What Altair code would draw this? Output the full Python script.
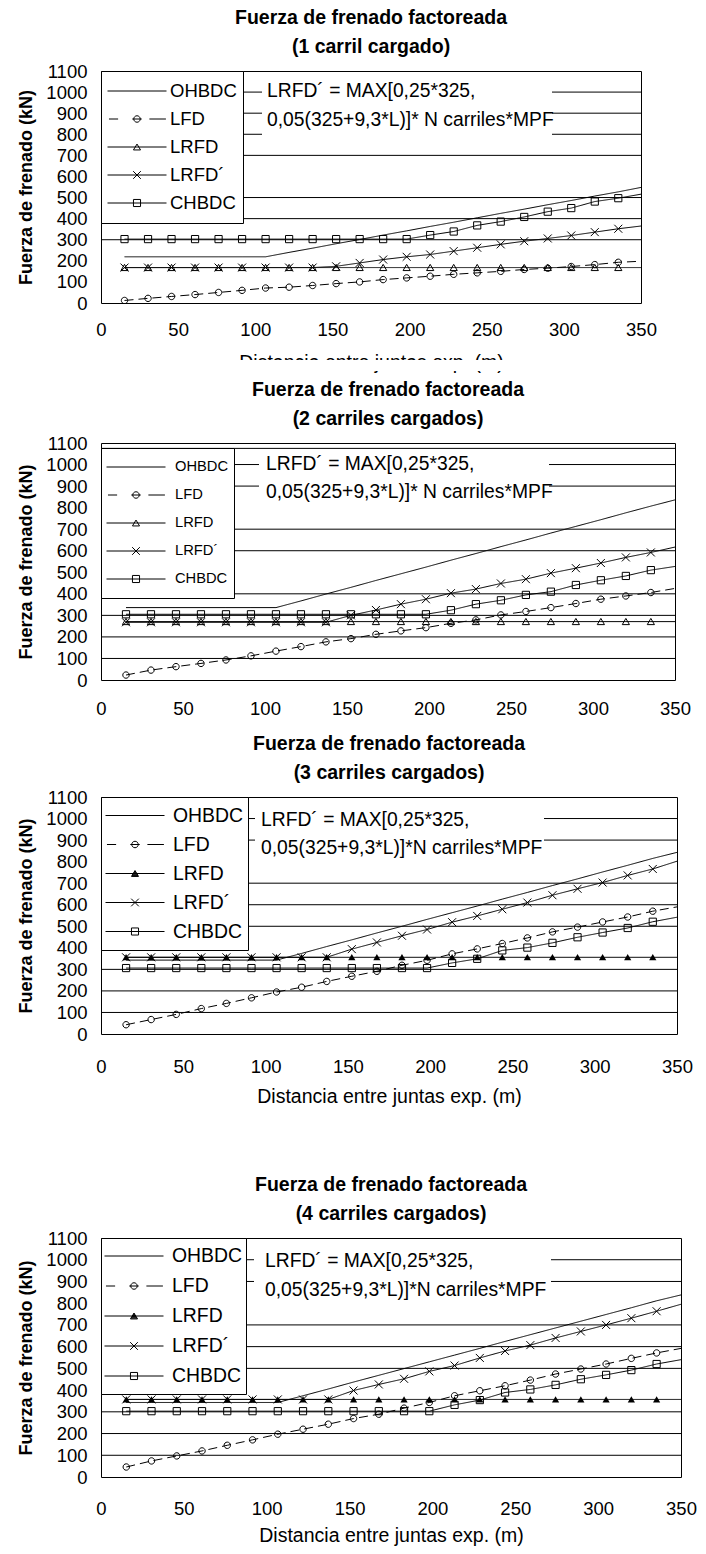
import altair as alt
import pandas as pd

FONT = "Liberation Sans, Arial, Helvetica, sans-serif"

series = ["OHBDC", "LFD", "LRFD", "LRFD´", "CHBDC"]
# distances (m): 22 computed points every 15.24 m, plus the line end at 350 m
x_m = [15.24, 30.48, 45.72, 60.96, 76.2, 91.44, 106.68, 121.92, 137.16, 152.4, 167.64,
       182.88, 198.12, 213.36, 228.6, 243.84, 259.08, 274.32, 289.56, 304.8, 320.04, 335.28, 350]
x_ticks = [0, 50, 100, 150, 200, 250, 300, 350]
y_ticks = [0, 100, 200, 300, 400, 500, 600, 700, 800, 900, 1000, 1100]

# ---- panel 1 : 1 carril cargado
p1_ohbdc = [219, 219, 219, 219, 219, 219, 219, 240, 260, 281, 301, 322, 342, 363, 383, 404, 425, 445, 466, 486, 507, 527, 548]
p1_lfd = [12, 22, 31, 40, 50, 60, 71, 75, 83, 92, 100, 111, 119, 127, 136, 143, 150, 159, 165, 173, 182, 193, 198]
p1_lrfd = [168, 168, 168, 168, 168, 168, 168, 168, 168, 168, 168, 168, 168, 168, 168, 168, 168, 168, 168, 168, 168, 168, 168]
p1_lrfdp = [168, 168, 168, 168, 168, 168, 168, 168, 168, 174, 190, 206, 219, 230, 246, 262, 278, 293, 306, 320, 336, 352, 365]
p1_chbdc = [303, 303, 303, 303, 303, 303, 303, 303, 303, 303, 303, 303, 303, 322, 339, 368, 386, 408, 433, 450, 481, 497, 516]
p1_grid = [300, 400, 500, 700, 800, 900, 1000]

# ---- panel 2 : 2 carriles cargados
p2_ohbdc = [336, 336, 336, 336, 336, 336, 336, 367, 399, 430, 462, 493, 524, 556, 587, 619, 650, 682, 713, 744, 776, 807, 836]
p2_lfd = [23, 46, 62, 77, 93, 112, 134, 155, 177, 192, 212, 228, 243, 263, 279, 302, 318, 336, 355, 375, 390, 406, 425]
p2_lrfd = [271, 271, 271, 271, 271, 271, 271, 271, 271, 271, 271, 271, 271, 271, 271, 271, 271, 271, 271, 271, 271, 271, 271]
p2_lrfdp = [268, 268, 268, 268, 268, 268, 268, 268, 268, 300, 325, 352, 375, 403, 422, 448, 468, 496, 519, 543, 569, 592, 617]
p2_chbdc = [305, 305, 305, 305, 305, 305, 305, 305, 305, 305, 305, 305, 305, 324, 352, 370, 395, 410, 441, 463, 483, 510, 527]
p2_grid = [100, 200, 300, 400, 600, 700, 900, 1000, 1075]

# ---- panel 3 : 3 carriles cargados
p3_ohbdc = [343, 343, 343, 343, 343, 343, 343, 374, 406, 437, 469, 500, 532, 563, 594, 626, 657, 689, 720, 752, 783, 815, 843]
p3_lfd = [43, 67, 91, 118, 142, 168, 195, 217, 244, 268, 291, 319, 342, 372, 395, 420, 446, 474, 496, 520, 543, 570, 590]
p3_lrfd = [356, 356, 356, 356, 356, 356, 356, 356, 356, 356, 356, 356, 356, 356, 356, 356, 356, 356, 356, 356, 356, 356, 356]
p3_lrfdp = [356, 356, 356, 356, 356, 356, 356, 356, 356, 394, 425, 456, 485, 519, 548, 579, 610, 644, 674, 703, 736, 766, 802]
p3_chbdc = [306, 306, 306, 306, 306, 306, 306, 306, 306, 306, 306, 306, 306, 330, 349, 388, 401, 423, 449, 471, 492, 521, 542]
p3_grid = [100, 200, 300, 500, 600, 700, 900, 1000]

# ---- panel 4 : 4 carriles cargados
p4_ohbdc = [343, 343, 343, 343, 343, 343, 343, 374, 405, 437, 468, 499, 530, 561, 592, 624, 655, 686, 717, 748, 779, 811, 838]
p4_lfd = [46, 74, 97, 120, 146, 171, 197, 220, 243, 269, 289, 317, 343, 374, 397, 420, 446, 474, 497, 520, 546, 571, 592]
p4_lrfd = [357, 357, 357, 357, 357, 357, 357, 357, 357, 357, 357, 357, 357, 357, 357, 357, 357, 357, 357, 357, 357, 357, 357]
p4_lrfdp = [357, 357, 357, 357, 357, 357, 357, 357, 357, 398, 426, 452, 486, 513, 548, 580, 607, 640, 670, 700, 731, 763, 795]
p4_chbdc = [303, 303, 303, 303, 303, 303, 303, 303, 303, 303, 303, 303, 303, 332, 354, 389, 403, 424, 450, 470, 492, 520, 540]
p4_grid = [100, 200, 300, 500, 600, 700, 900, 1000]

title_main = "Fuerza de frenado factoreada"
subtitles = ["(1 carril cargado)", "(2 carriles cargados)", "(3 carriles cargados)", "(4 carriles cargados)"]
note_a = ["LRFD´ = MAX[0,25*325,", "0,05(325+9,3*L)]* N carriles*MPF"]
note_b = ["LRFD´ = MAX[0,25*325,", "0,05(325+9,3*L)]*N carriles*MPF"]
x_title = "Distancia entre juntas exp. (m)"
y_title = "Fuerza de frenado (kN)"

# ---- marker / legend symbol paths (style)
CIRC = "M0.8,0A0.8,0.8 0 1,1 -0.8,0A0.8,0.8 0 1,1 0.8,0Z"
TRI = "M0,-0.8L0.9,0.75L-0.9,0.75Z"
XSH = "M-1,-1L1,1M-1,1L1,-1"
SQ = "M-0.9,-0.9H0.9V0.9H-0.9Z"
marker_paths = [CIRC, CIRC, TRI, XSH, SQ]


def circ(r, cx=0.0):
    return "M%g,0A%g,%g 0 1,1 %g,0A%g,%g 0 1,1 %g,0" % (cx + r, r, r, cx - r, r, r, cx + r)


def tri_leg(filled):
    hw, h = 0.12, 0.2
    s = "M0,%gL%g,%gL%g,%gZ" % (-h / 2, hw, h / 2, -hw, h / 2)
    if filled:
        n = 7
        for i in range(1, n):
            yy = -h / 2 + h * i / n
            w = hw * i / n
            s += "M%g,%gH%g" % (-w, yy, w)
    return s


LINE = "M-1,0H1"


def legend_paths(filled):
    return [
        LINE,
        "M-0.95,0H-0.64M-0.16,0H0.16M0.42,0H0.98" + circ(0.11),
        LINE + tri_leg(filled),
        LINE + "M-0.13,-0.13L0.13,0.13M-0.13,0.13L0.13,-0.13",
        LINE + "M-0.12,-0.12H0.12V0.12H-0.12Z",
    ]


panels = [
    dict(vals=[p1_ohbdc, p1_lfd, p1_lrfd, p1_lrfdp, p1_chbdc], grid=p1_grid, sub=subtitles[0],
         w=540, h=232, xtitle=x_title, lp=17, tp=15, filled=False, note=note_a,
         leg=dict(y=0, pad=6, clip=28, fs=18.5, lo=3), rect=(161, 451, 8, 65), tx=166, ty=(20, 49),
         mask=True),
    dict(vals=[p2_ohbdc, p2_lfd, p2_lrfd, p2_lrfdp, p2_chbdc], grid=p2_grid, sub=subtitles[1],
         w=574, h=237, xtitle=None, lp=19, tp=10, filled=False, note=note_a,
         leg=dict(y=5, pad=5, clip=28, fs=14.7, lo=9), rect=(158, 448, 9, 63), tx=165, ty=(21, 49),
         mask=False),
    dict(vals=[p3_ohbdc, p3_lfd, p3_lrfd, p3_lrfdp, p3_chbdc], grid=p3_grid, sub=subtitles[2],
         w=576, h=237, xtitle=x_title, lp=23, tp=12, filled=True, note=note_b,
         leg=dict(y=0, pad=4, clip=29, fs=19.4, lo=8), rect=(154, 443, 8, 62), tx=160, ty=(23, 51),
         mask=False),
    dict(vals=[p4_ohbdc, p4_lfd, p4_lrfd, p4_lrfdp, p4_chbdc], grid=p4_grid, sub=subtitles[3],
         w=580, h=239, xtitle=x_title, lp=22, tp=9, filled=True, note=note_b,
         leg=dict(y=0, pad=3, clip=30, fs=19.4, lo=8), rect=(153, 450, 8, 64), tx=164, ty=(23, 52),
         mask=False),
]


def make_panel(p):
    rows = []
    n = len(x_m)
    for name, vals in zip(series, p["vals"]):
        for i, (xv, yv) in enumerate(zip(x_m, vals)):
            rows.append({"x": xv, "y": yv, "series": name, "marker": i < n - 1})
    df = pd.DataFrame(rows)
    W, H = p["w"], p["h"]

    xax = dict(values=x_ticks, format="d", labelFont=FONT, labelFontSize=18.5, labelColor="black",
               labelPadding=p["lp"], ticks=False, domain=False, grid=False, labelFlush=False,
               labelOverlap=False, titleFont=FONT, titleFontSize=19.5, titleFontWeight="normal",
               titleColor="black", titlePadding=p["tp"])
    xax["title"] = p["xtitle"] if p["xtitle"] is not None else None
    xenc = alt.X("x:Q", scale=alt.Scale(domain=[0, 350], nice=False, zero=False), axis=alt.Axis(**xax))
    yenc = alt.Y("y:Q", scale=alt.Scale(domain=[0, 1100], nice=False, zero=False),
                 axis=alt.Axis(values=y_ticks, format="d", labelFont=FONT, labelFontSize=18.5,
                               labelColor="black", labelPadding=14, ticks=False, domain=False,
                               grid=False, labelFlush=False, labelOverlap=False, title=y_title,
                               titleFont=FONT, titleFontSize=18, titleFontWeight="bold",
                               titleColor="black", titlePadding=10))

    grid = alt.Chart(pd.DataFrame({"y": p["grid"]})).mark_rule(color="black", strokeWidth=1).encode(y=yenc)

    lines = alt.Chart(df).mark_line(color="black", strokeWidth=1, clip=True).encode(
        x=xenc, y=yenc, detail="series:N",
        strokeDash=alt.StrokeDash("series:N", scale=alt.Scale(domain=series,
                                  range=[[1, 0], [9, 5], [1, 0], [1, 0], [1, 0]]), legend=None))

    flt = "datum.marker && datum.series != 'OHBDC'"
    if p["filled"]:
        flt += " && datum.series != 'LRFD'"
    pts = alt.Chart(df).transform_filter(flt).mark_point(
        size=64, opacity=1, strokeWidth=1, color="black", filled=False, clip=True).encode(
        x=xenc, y=yenc,
        shape=alt.Shape("series:N", scale=alt.Scale(domain=series, range=marker_paths), legend=None))

    lg = p["leg"]
    leg = alt.Chart(pd.DataFrame({"series": series})).mark_point(
        opacity=0, size=3481, strokeWidth=1, color="black", filled=False).encode(
        shape=alt.Shape("series:N", scale=alt.Scale(domain=series, range=legend_paths(p["filled"])),
                        legend=alt.Legend(title=None, orient="none", legendX=0, legendY=lg["y"],
                                          padding=lg["pad"], clipHeight=lg["clip"], rowPadding=0,
                                          symbolSize=3481, symbolStrokeWidth=1, symbolStrokeColor="black",
                                          symbolOpacity=1, labelFont=FONT, labelFontSize=lg["fs"],
                                          labelColor="black", labelOffset=lg["lo"], fillColor="white",
                                          strokeColor="black", labelLimit=200)))

    x0, x1, y0, y1 = p["rect"]
    nb = alt.Chart(pd.DataFrame({"a": [0]})).mark_rect(color="white").encode(
        x=alt.value(x0), x2=alt.value(x1), y=alt.value(y0), y2=alt.value(y1))
    t1 = alt.Chart(pd.DataFrame({"t": [p["note"][0]]})).mark_text(
        align="left", baseline="middle", font=FONT, fontSize=19.3, color="black").encode(
        text="t:N", x=alt.value(p["tx"]), y=alt.value(p["ty"][0]))
    t2 = alt.Chart(pd.DataFrame({"t": [p["note"][1]]})).mark_text(
        align="left", baseline="middle", font=FONT, fontSize=19.3, color="black").encode(
        text="t:N", x=alt.value(p["tx"]), y=alt.value(p["ty"][1]))

    layers = [grid, nb, t1, t2, lines, pts]
    if p["filled"]:
        tri = alt.Chart(df).transform_filter("datum.marker && datum.series == 'LRFD'").mark_point(
            shape=TRI, size=64, opacity=1, strokeWidth=1, color="black", filled=True, clip=True).encode(
            x=xenc, y=yenc)
        layers.append(tri)
    layers.append(leg)
    if p["mask"]:
        mk = alt.Chart(pd.DataFrame({"a": [0]})).mark_rect(color="white").encode(
            x=alt.value(60), x2=alt.value(W - 60), y=alt.value(H + 57), y2=alt.value(H + 68))
        layers.append(mk)

    ch = alt.layer(*layers).resolve_scale(shape="independent").properties(
        width=W, height=H,
        title=alt.TitleParams(text=[title_main, p["sub"]], font=FONT, fontSize=19.5, fontWeight="bold",
                              color="black", lineHeight=29, anchor="middle", frame="group", offset=5))
    return ch


c1, c2, c3, c4 = [make_panel(p) for p in panels]
top12 = alt.vconcat(c1, c2, spacing=6)
top123 = alt.vconcat(top12, c3, spacing=15)
chart = alt.vconcat(top123, c4, spacing=67).properties(
    padding={"left": 17, "top": 7, "right": 4, "bottom": 0}, background="white"
).configure_view(stroke="black", strokeWidth=1)

chart.save("out.html", embed_options={"renderer": "svg", "actions": False})
